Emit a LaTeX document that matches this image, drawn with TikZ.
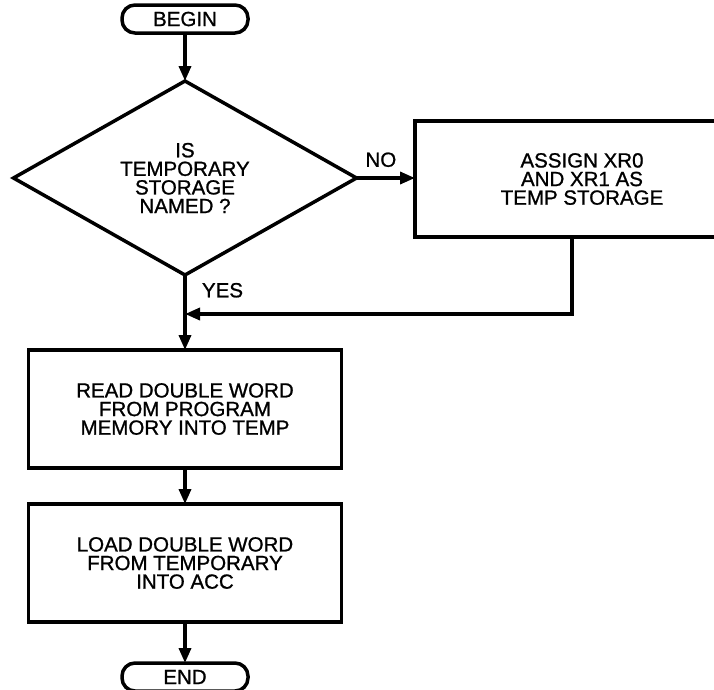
\documentclass[tikz,border=0pt]{standalone}
\usepackage{fontspec}
\setmainfont{Liberation Sans}[BoldFont=Liberation Sans, BoldFeatures={FakeBold=1}]
\usetikzlibrary{shapes.geometric,arrows.meta,positioning}

\begin{document}
\begin{tikzpicture}[
    x=1pt, y=-1pt,
    node distance=36pt,
    every node/.style={outer sep=0pt},
    font=\fontsize{20.5}{18.6}\selectfont\bfseries,
    line width=3.5pt,
    box/.style={rectangle, draw, minimum height=118pt, minimum width=313pt, align=center},
    term/.style={rectangle, draw, rounded corners=13pt, minimum height=28pt, minimum width=126pt},
    decision/.style={diamond, draw, aspect=2, minimum width=343pt, minimum height=194pt, align=center, inner sep=0pt},
    lbl/.style={inner sep=0pt},
    arr/.style={-{Triangle[length=15pt, width=12pt]}}
  ]
  \useasboundingbox (0,0) rectangle (714,689);
  \node[term] (begin) at (185,19) {BEGIN};
  \node[decision, below=48pt of begin] (ask) {IS\\TEMPORARY\\STORAGE\\NAMED ?};
  \node[box, minimum width=334pt, minimum height=116pt] (assign) at (582,179) {ASSIGN XR0\\AND XR1 AS\\TEMP STORAGE};
  \node[box, below=75pt of ask] (read) {READ DOUBLE WORD\\FROM PROGRAM\\MEMORY INTO TEMP};
  \node[box, below=of read] (load) {LOAD DOUBLE WORD\\FROM TEMPORARY\\INTO ACC};
  \node[term, below=41pt of load] (end) {END};
  \coordinate[above=of read.north] (join);
  \coordinate (drop) at ([xshift=-10pt]assign.south);
  \node[lbl, above right=11pt and 9pt of ask.east] (no) {NO};
  \node[lbl, below right=8pt and 17pt of ask.south] (yes) {YES};
  % connectors
  \draw[arr] (begin) -- (ask);
  \draw[arr] (ask.east) -- (ask.east -| assign.west);
  \draw[arr] (ask) -- (read);
  \draw[arr] (drop) |- (join);
  \draw[arr] (read) -- (load);
  \draw[arr] (load) -- (end);
\end{tikzpicture}
\end{document}
